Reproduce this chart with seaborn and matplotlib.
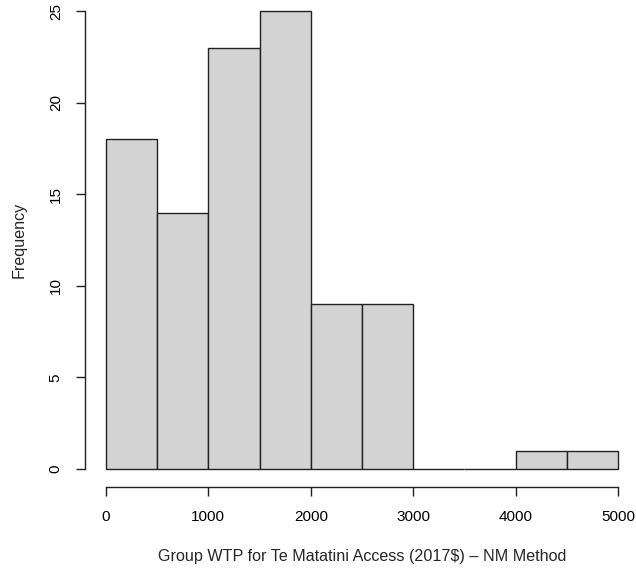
import numpy as np
import pandas as pd
import matplotlib
matplotlib.use("Agg")
import matplotlib.pyplot as plt
import seaborn as sns

# histogram bins (2017$) and counts
bin_edges = [0, 500, 1000, 1500, 2000, 2500, 3000, 3500, 4000, 4500, 5000]
counts = [18, 14, 23, 25, 9, 9, 0, 0, 1, 1]
x_ticks = [0, 1000, 2000, 3000, 4000, 5000]
y_ticks = [0, 5, 10, 15, 20, 25]

df = pd.DataFrame({
    "wtp": [(a + b) / 2 for a, b in zip(bin_edges[:-1], bin_edges[1:])],
    "n": counts,
})

sns.set_style("white")
plt.rcParams["font.family"] = ["Liberation Sans", "DejaVu Sans"]
plt.rcParams["font.size"] = 11

fig = plt.figure(figsize=(6.36, 5.69), dpi=100)
W, H = 636, 569
# plot region in pixels (R style: limits padded 4%)
left, right = 85.3, 638.7
bottom, top = 487.3, -7.3
ax = fig.add_axes([left / W, (H - bottom) / H, (right - left) / W, (bottom - top) / H])

sns.histplot(data=df, x="wtp", weights="n", bins=bin_edges, ax=ax,
             color="#D3D3D3", edgecolor="#222222", linewidth=1.0, alpha=1.0)

ax.set_xlim(-200, 5200)
ax.set_ylim(-1, 26)

for s in ["top", "right"]:
    ax.spines[s].set_visible(False)
ax.spines["left"].set_bounds(0, 25)
ax.spines["bottom"].set_bounds(0, 5000)
for s in ["left", "bottom"]:
    ax.spines[s].set_color("#222222")
    ax.spines[s].set_linewidth(1.0)

ax.set_xticks(x_ticks)
ax.set_yticks(y_ticks)
ax.tick_params(axis="both", direction="out", length=6.7, width=1.0,
               color="#222222", labelsize=11, labelcolor="black",
               bottom=True, left=True)
ax.tick_params(axis="x", pad=10)
ax.tick_params(axis="y", pad=9.5)
for lab in ax.get_yticklabels():
    lab.set_rotation(90)
    lab.set_va("center")

ax.set_xlabel("")
ax.set_ylabel("")
fig.text(362 / W, 1 - 556 / H, "Group WTP for Te Matatini Access (2017$) \u2013 NM Method",
         ha="center", va="center", fontsize=11.6)
fig.text(19 / W, 1 - 240 / H, "Frequency", ha="center", va="center",
         rotation=90, fontsize=11.6)

fig.savefig("out.png", dpi=100)
